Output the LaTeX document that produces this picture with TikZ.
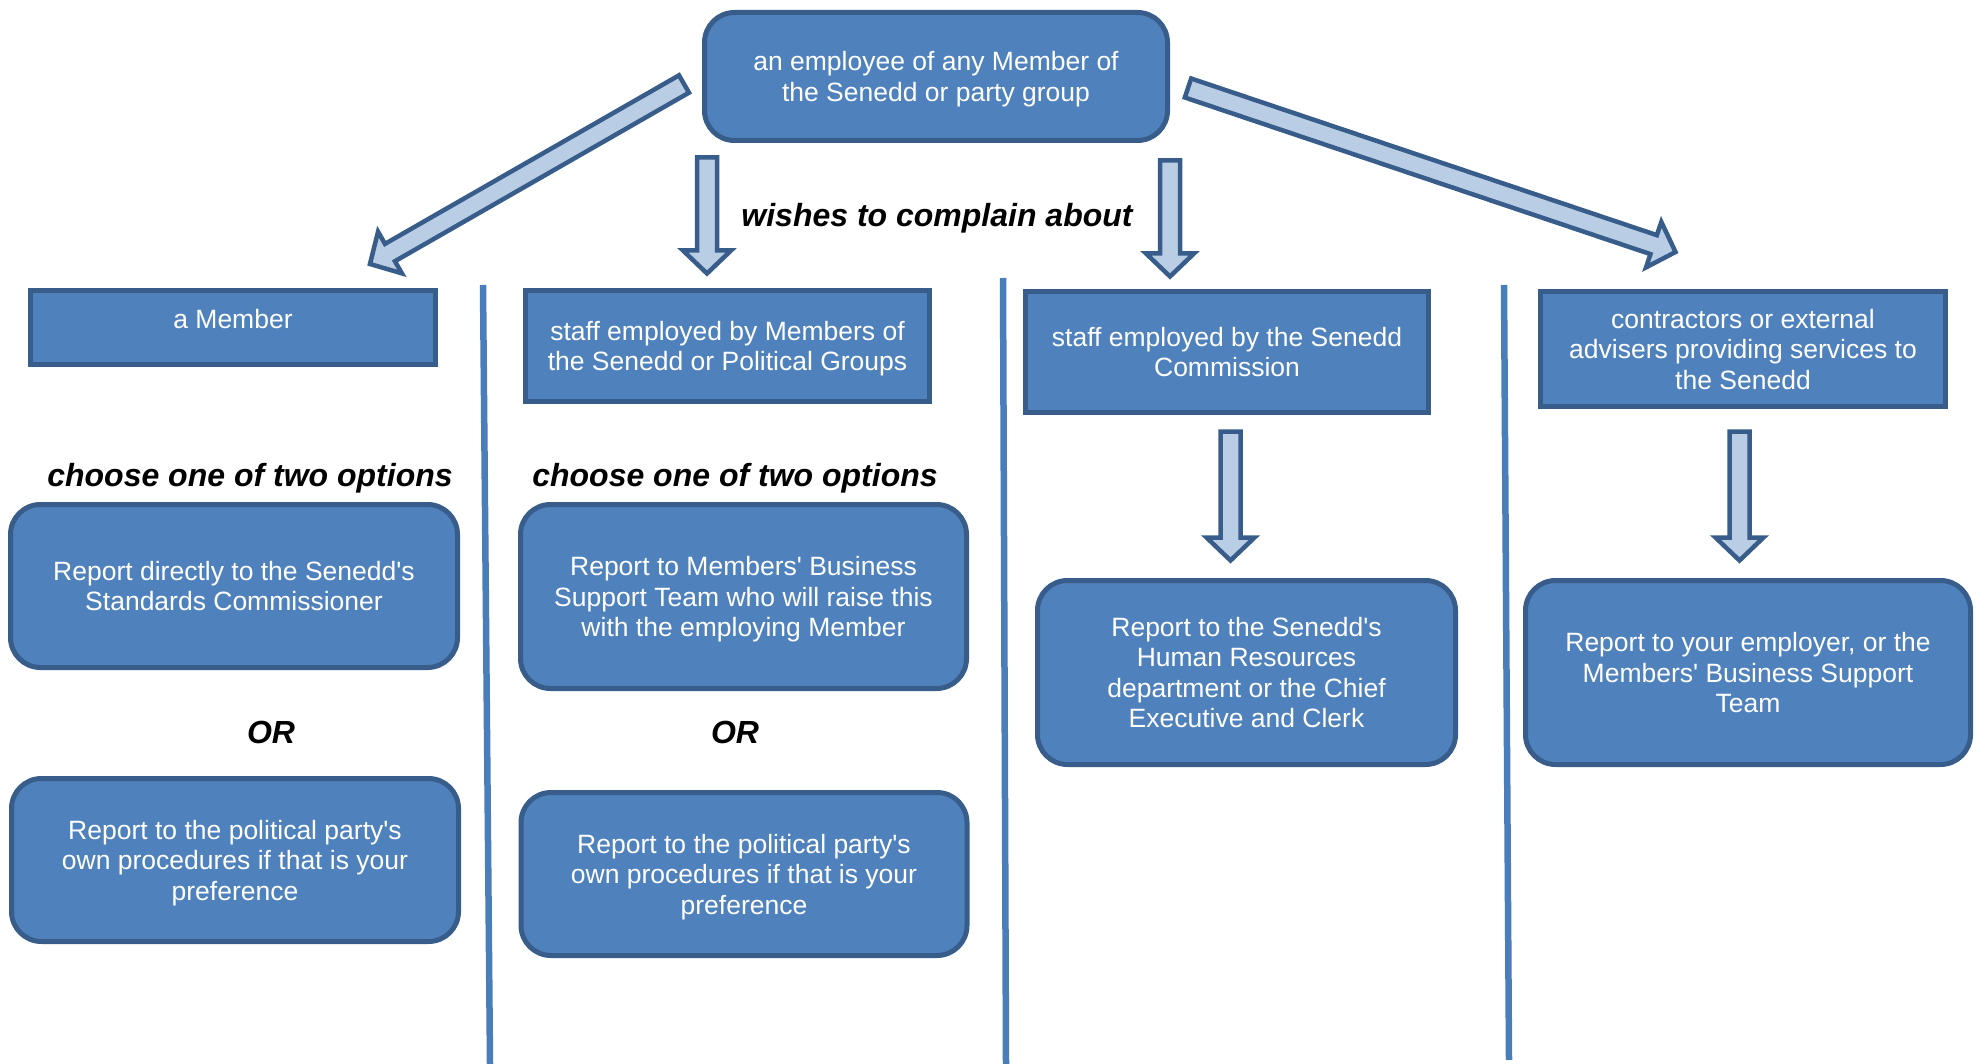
\documentclass[tikz,border=0pt]{standalone}
\usepackage{fontspec}
\setmainfont{Liberation Sans}
\usetikzlibrary{calc}

\definecolor{boxfill}{HTML}{4F81BD}
\definecolor{boxline}{HTML}{385D8A}
\definecolor{arrfill}{HTML}{B9CDE5}
\definecolor{divline}{HTML}{4A7EBB}

\tikzset{
  sqbox/.style={draw=boxline, fill=boxfill, line width=5pt, text=white, align=center,
    inner sep=0pt, text depth=0pt, font=\fontsize{26.5}{30.5}\selectfont},
  rbox/.style={sqbox, rounded corners=30pt},
  optlabel/.style={anchor=base, inner sep=0pt, font=\fontsize{32}{36}\selectfont\bfseries\itshape},
  blockarr/.style={draw=boxline, fill=arrfill, line width=4.5pt, line join=miter},
  divider/.style={draw=divline, line width=6.5pt}
}

% block arrow from #1 (tail) to #2 (tip)
\newcommand{\blockarrow}[2]{%
  \draw[blockarr] let \p1=($(#2)-(#1)$), \n1={atan2(\y1,\x1)}, \n2={veclen(\x1,\y1)} in
    ($(#1)+(\n1+90:10pt)$) -- ++(\n1:\n2-23pt) -- ++(\n1+90:14pt) -- (#2)
    -- ($(#1)+(\n1:\n2-23pt)+(\n1-90:24pt)$) -- ++(\n1+90:14pt)
    -- ($(#1)+(\n1-90:10pt)$) -- cycle;}

\begin{document}
\begin{tikzpicture}[x=1pt,y=-1pt]
\useasboundingbox (0,0) rectangle (1977,1064);

% dividers
\draw[divider] (483,285) -- (490,1064);
\draw[divider] (1003,278) -- (1006,1064);
\draw[divider] (1504,285) -- (1509,1060);

% top
\node[rbox, minimum width=463pt, minimum height=128pt] (employee) at (936,76.5)
  {an employee of any Member of\\the Senedd or party group};
\node[optlabel] (wishes) at (937,227) {wishes to complain about};

% who
\node[sqbox, minimum width=405pt, minimum height=74pt, text depth=18pt] (member) at (233,327.5) {a Member};
\node[sqbox, minimum width=404pt, minimum height=111pt] (staffmem) at (727.5,346)
  {staff employed by Members of\\the Senedd or Political Groups};
\node[sqbox, minimum width=403pt, minimum height=121pt] (staffcom) at (1227,352)
  {staff employed by the Senedd\\Commission};
\node[sqbox, minimum width=405pt, minimum height=115pt] (contract) at (1743,349)
  {contractors or external\\advisers providing services to\\the Senedd};

% options
\node[optlabel] (chooseL) at (250,486) {choose one of two options};
\node[optlabel] (chooseM) at (735,486) {choose one of two options};
\node[optlabel] (orL) at (271,743) {OR};
\node[optlabel] (orM) at (735,743) {OR};

\node[rbox, minimum width=447pt, minimum height=163pt] (commish) at (234,586)
  {Report directly to the Senedd\textquotesingle s\\Standards Commissioner};
\node[rbox, minimum width=447pt, minimum height=163pt] (partyL) at (235,860)
  {Report to the political party\textquotesingle s\\own procedures if that is your\\preference};
\node[rbox, minimum width=446pt, minimum height=184pt] (mbst) at (743.5,596.5)
  {Report to Members\textquotesingle{} Business\\Support Team who will raise this\\with the employing Member};
\node[rbox, minimum width=446pt, minimum height=163pt] (partyM) at (744,874)
  {Report to the political party\textquotesingle s\\own procedures if that is your\\preference};
\node[rbox, minimum width=418pt, minimum height=184pt] (hr) at (1246.5,672.5)
  {Report to the Senedd\textquotesingle s\\Human Resources\\department or the Chief\\Executive and Clerk};
\node[rbox, minimum width=445pt, minimum height=184pt] (employer) at (1748,672.5)
  {Report to your employer, or the\\Members\textquotesingle{} Business Support\\Team};

% arrow ends
\coordinate (a1s) at (684,84);    \coordinate (a1e) at (370,264);
\coordinate (a2s) at (707,157.5); \coordinate (a2e) at (707,273.5);
\coordinate (a3s) at (1170,160.5);\coordinate (a3e) at (1170,276.5);
\coordinate (a4s) at (1188,88);   \coordinate (a4e) at (1675.5,252);
\coordinate (a5s) at (1230.5,431.5); \coordinate (a5e) at (1230.5,560.5);
\coordinate (a6s) at (1739.5,431.5); \coordinate (a6e) at (1739.5,560.5);

\blockarrow{a1s}{a1e}
\blockarrow{a2s}{a2e}
\blockarrow{a3s}{a3e}
\blockarrow{a4s}{a4e}
\blockarrow{a5s}{a5e}
\blockarrow{a6s}{a6e}

\end{tikzpicture}
\end{document}
